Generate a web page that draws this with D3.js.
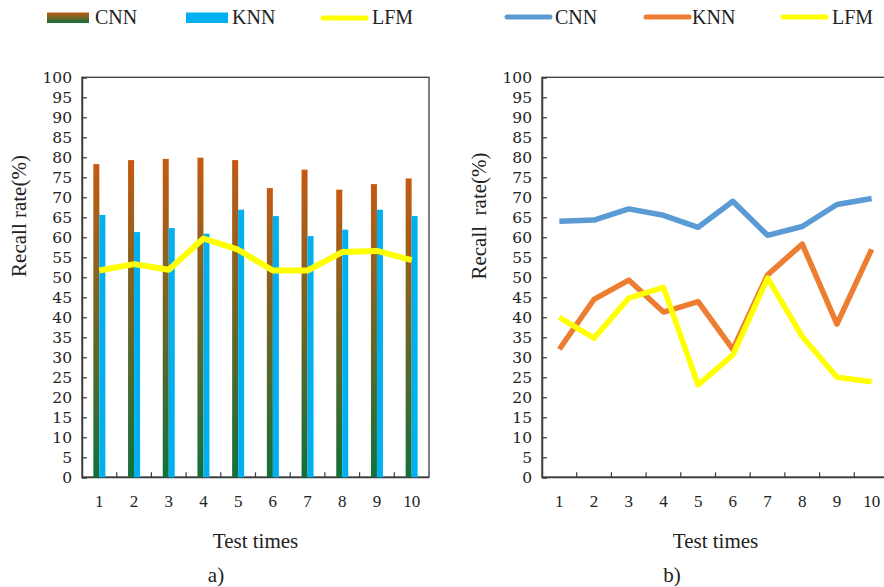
<!DOCTYPE html>
<html><head><meta charset="utf-8">
<script src="https://cdn.jsdelivr.net/npm/d3@7"></script>
<style>body{margin:0;background:#fff}svg{display:block}text{font-family:"Liberation Serif","Times New Roman",serif;fill:#222}</style>
</head><body>
<script>
const tests = ["1","2","3","4","5","6","7","8","9","10"];
const yTicks = [0,5,10,15,20,25,30,35,40,45,50,55,60,65,70,75,80,85,90,95,100];
// panel a
const barCNN = [78.3,79.3,79.6,79.9,79.3,72.3,76.9,71.9,73.3,74.7];
const barKNN = [65.6,61.3,62.3,60.9,66.9,65.3,60.3,61.9,66.9,65.3];
const lineLFMa = [51.7,53.3,51.9,59.7,56.9,51.7,51.7,56.3,56.6,54.3];
// panel b
const lineCNN = [64.0,64.3,67.1,65.5,62.5,69.0,60.5,62.7,68.2,69.7];
const lineKNN = [32.0,44.5,49.3,41.3,43.9,32.0,50.6,58.3,38.3,57.0];
const lineLFMb = [40.0,34.8,44.8,47.5,23.1,30.6,49.8,35.2,25.0,23.9];

const W = 884, H = 587;
const svg = d3.select("body").append("svg").attr("width", W).attr("height", H);
const defs = svg.append("defs");
const grad = defs.append("linearGradient").attr("id","cnnGrad").attr("x1",0).attr("y1",0).attr("x2",0).attr("y2",1);
grad.append("stop").attr("offset","0%").attr("stop-color","#C55A11");
grad.append("stop").attr("offset","100%").attr("stop-color","#12703C");

const plotTop = 77.3, plotBottom = 477.3;
const y = d3.scaleLinear().domain([0,100]).range([plotBottom, plotTop]);
const axisColor = "#3a3a3a";

function panel(left, right) {
  const g = svg.append("g");
  const x = d3.scaleBand().domain(tests).range([left, right]).paddingInner(0).paddingOuter(0);
  g.append("rect").attr("x", left).attr("y", plotTop).attr("width", right-left).attr("height", plotBottom-plotTop)
    .attr("fill","none").attr("stroke", axisColor).attr("stroke-width",1.3);
  const ya = g.append("g").attr("transform",`translate(${left},0)`)
    .call(d3.axisRight(y).tickValues(yTicks).tickSize(5).tickFormat(d3.format("d")));
  ya.attr("font-family","DejaVu Serif").attr("font-size",null);
  ya.select(".domain").attr("stroke", axisColor).attr("stroke-width",1.5);
  ya.selectAll(".tick line").attr("stroke", axisColor).attr("stroke-width",1.2);
  ya.selectAll(".tick text").attr("x",-10).attr("text-anchor","end").attr("dy","0.36em")
    .style("font-family","'DejaVu Serif',serif").style("font-size","15.5px").attr("fill","#222");
  const bounds = tests.slice(1).map(t => x(t));
  g.selectAll(".xt").data(bounds).enter().append("line")
    .attr("x1", d=>d).attr("x2", d=>d).attr("y1", plotBottom).attr("y2", plotBottom-5)
    .attr("stroke", axisColor).attr("stroke-width",1.2);
  g.append("line").attr("x1",left).attr("x2",right).attr("y1",plotBottom).attr("y2",plotBottom)
    .attr("stroke",axisColor).attr("stroke-width",1.8);
  g.selectAll(".xl").data(tests).enter().append("text")
    .attr("x", d=>x(d)+x.bandwidth()/2).attr("y", 507).attr("text-anchor","middle")
    .style("font-size","17px").text(d=>d);
  g.append("text").attr("x",(left+right)/2).attr("y",548).attr("text-anchor","middle")
    .style("font-size","21px").text("Test times");
  return {g, x};
}

// Panel a
const pa = panel(82, 429);
pa.g.append("text").attr("transform","translate(26,216) rotate(-90)").attr("text-anchor","middle")
  .style("font-size","21px").text("Recall rate(%)");
const bw = 12;
const x1 = d3.scaleBand().domain(["CNN","KNN"]).range([0,bw]);
const grp = pa.g.selectAll(".grp").data(tests).enter().append("g")
  .attr("transform", d => `translate(${pa.x(d)+pa.x.bandwidth()/2 - bw/2},0)`);
grp.append("rect").attr("x", x1("CNN")).attr("width", x1.bandwidth())
  .attr("y", (d,i)=>y(barCNN[i])).attr("height",(d,i)=>plotBottom-y(barCNN[i])).attr("fill","url(#cnnGrad)");
grp.append("rect").attr("x", x1("KNN")).attr("width", x1.bandwidth())
  .attr("y", (d,i)=>y(barKNN[i])).attr("height",(d,i)=>plotBottom-y(barKNN[i])).attr("fill","#00B0F0");
const lineA = d3.line().x((d,i)=>pa.x(tests[i])+pa.x.bandwidth()/2).y(d=>y(d));
pa.g.append("path").datum(lineLFMa).attr("d",lineA).attr("fill","none").attr("stroke","#FFFF00")
  .attr("stroke-width",6).attr("stroke-linejoin","round");
pa.g.append("text").attr("x",216).attr("y",582).attr("text-anchor","middle").style("font-size","21px").text("a)");

// Panel b
const pb = panel(542, 889);
pb.g.append("text").attr("transform","translate(486,216) rotate(-90)").attr("text-anchor","middle")
  .style("font-size","21px").text("Recall\u00a0 rate(%)");
const lineB = d3.line().x((d,i)=>pb.x(tests[i])+pb.x.bandwidth()/2).y(d=>y(d));
[[lineCNN,"#5B9BD5"],[lineKNN,"#ED7D31"],[lineLFMb,"#FFFF00"]].forEach(([data,c])=>{
  pb.g.append("path").datum(data).attr("d",lineB).attr("fill","none").attr("stroke",c)
    .attr("stroke-width",5.5).attr("stroke-linejoin","round");
});
pb.g.append("text").attr("x",672).attr("y",582).attr("text-anchor","middle").style("font-size","21px").text("b)");

// Legends
const lg = svg.append("g");
lg.append("rect").attr("x",47).attr("y",12.5).attr("width",42).attr("height",10.5).attr("fill","url(#cnnGrad)");
lg.append("text").attr("x",95).attr("y",24).style("font-size","20px").text("CNN");
lg.append("rect").attr("x",186).attr("y",12.5).attr("width",42).attr("height",10.5).attr("fill","#00B0F0");
lg.append("text").attr("x",232).attr("y",24).style("font-size","20px").text("KNN");
lg.append("line").attr("x1",323).attr("x2",366).attr("y1",18).attr("y2",18).attr("stroke","#FFFF00").attr("stroke-width",5).attr("stroke-linecap","round");
lg.append("text").attr("x",372).attr("y",24).style("font-size","20px").text("LFM");

const leg2 = [["CNN","#5B9BD5",507,555],["KNN","#ED7D31",646,692],["LFM","#FFFF00",783,832]];
leg2.forEach(([t,c,lx,tx])=>{
  lg.append("line").attr("x1",lx).attr("x2",lx+43).attr("y1",17).attr("y2",17).attr("stroke",c).attr("stroke-width",5).attr("stroke-linecap","round");
  lg.append("text").attr("x",tx).attr("y",24).style("font-size","20px").text(t);
});
</script>
</body></html>
